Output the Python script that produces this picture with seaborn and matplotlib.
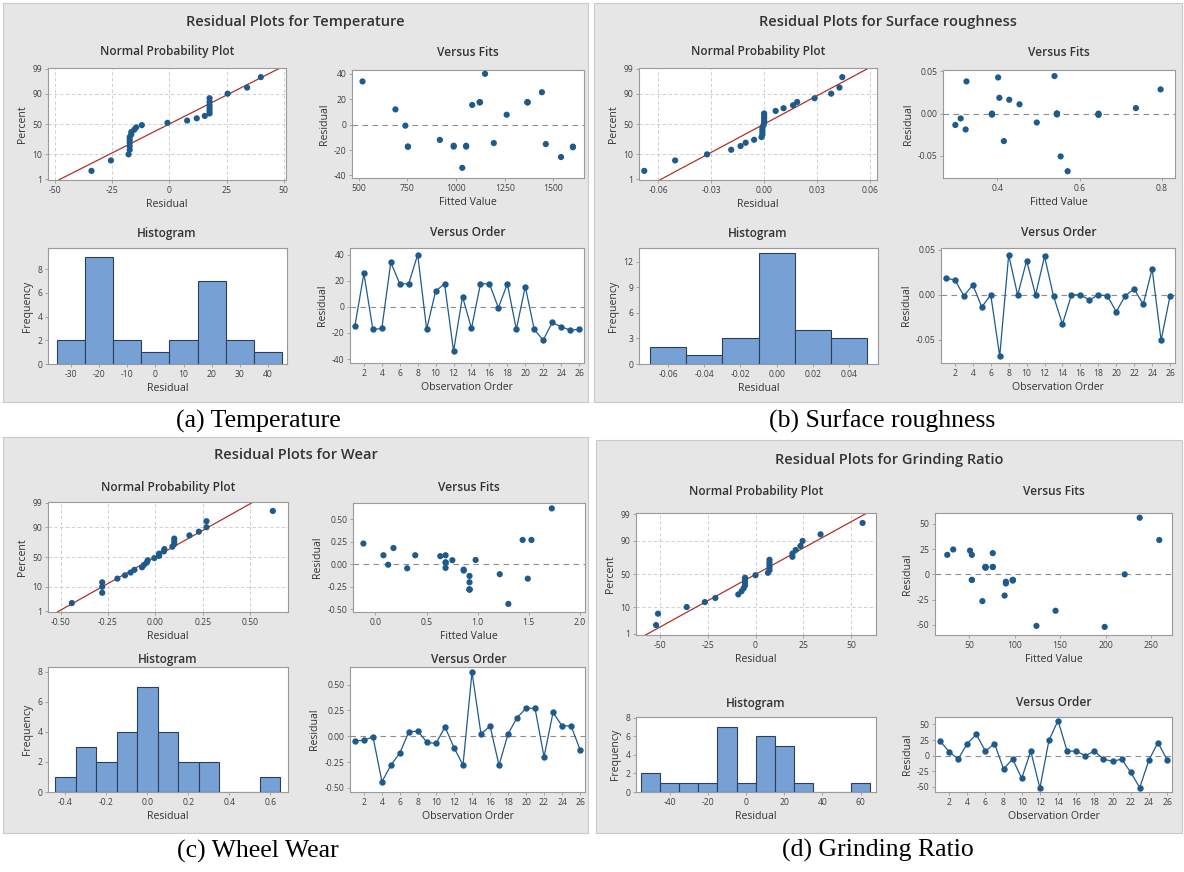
import numpy as np
import matplotlib
matplotlib.use("Agg")
import matplotlib.pyplot as plt
import seaborn as sns
from matplotlib.patches import Rectangle
from statistics import NormalDist

W, H = 1184, 872

obs_order = list(range(1, 27))

# Residuals (in observation order) and fitted values for each response
temp_resid = [-14.5, 25.5, -17.3, -16.6, 34.0, 17.6, 17.6, 40.0, -17.3, 12.0, 17.6, -34.0, 7.8,
              -16.6, 17.6, 17.6, -0.8, 17.6, -17.3, 15.5, -17.3, -25.5, -12.0, -15.3, -17.8, -17.3]
temp_fits = [1194, 1441, 753, 988, 520, 1122, 1367, 1149, 1052, 689, 1122, 1032, 1260,
             1052, 1367, 1122, 740, 1367, 1600, 1083, 753, 1539, 917, 1461, 1600, 988]

rough_resid = [0.0187, 0.0164, -0.0010, 0.0110, -0.0134, 0.0000, -0.0680, 0.0443, -0.0004, 0.0380,
               0.0000, 0.0427, -0.0015, -0.0324, 0.0000, 0.0000, -0.0057, 0.0000, -0.0010, -0.0187,
               -0.0010, 0.0065, -0.0105, 0.0286, -0.0505, -0.0010]
rough_fits = [0.405, 0.429, 0.387, 0.454, 0.298, 0.545, 0.571, 0.539, 0.387, 0.325, 0.545, 0.402, 0.646,
              0.416, 0.545, 0.646, 0.311, 0.387, 0.646, 0.323, 0.387, 0.737, 0.496, 0.797, 0.554, 0.545]

wear_resid = [-0.045, -0.040, -0.005, -0.440, -0.280, -0.160, 0.045, 0.048, -0.060, -0.070, 0.090, -0.110,
              -0.280, 0.620, 0.020, 0.100, -0.280, 0.020, 0.180, 0.270, 0.270, -0.200, 0.230, 0.100,
              0.100, -0.130]
wear_fits = [0.310, 0.686, 0.124, 1.300, 0.920, 1.490, 0.752, 0.980, 0.863, 0.863, 0.634, 1.216, 0.920,
             1.725, 0.686, 0.389, 0.920, 0.686, 0.176, 1.440, 1.526, 0.920, -0.118, 0.078, 0.686, 0.920]

grind_resid = [23.5, 6.5, -5.5, 19.3, 34.0, 7.3, 19.3, -21.0, -5.5, -36.0, 7.3, -52.0, 24.6,
               56.0, 7.3, 7.3, 0.0, 7.3, -5.5, -9.0, -5.5, -26.5, -51.0, -7.3, 21.0, -6.2]
grind_fits = [51, 68, 53, 26, 259, 68, 53, 89, 98, 145, 76, 199, 32.5,
              237.5, 68, 76, 221, 68, 98, 90.4, 53, 64.6, 124, 90.4, 76, 98]

response_names = ["Temperature", "Surface roughness", "Wear", "Grinding Ratio"]
captions = ["(a) Temperature", "(b) Surface roughness", "(c) Wheel Wear", "(d) Grinding Ratio"]
npp_pct_ticks = [1, 10, 50, 90, 99]
order_ticks = list(range(2, 27, 2))

# Axis settings for each response: ticks, tick formats, limits, histogram bins
axis_cfg = [
    dict(npp_x=[-50, -25, 0, 25, 50], npp_fmt="{:.0f}", npp_xlim=(-53, 51),
         vf_x=[500, 750, 1000, 1250, 1500], vf_fmt="{:.0f}", vf_xlim=(466, 1657),
         res_y=[-40, -20, 0, 20, 40], res_fmt="{:.0f}", vf_ylim=(-42, 43), vo_ylim=(-43, 45),
         hist_x=[-30, -20, -10, 0, 10, 20, 30, 40], hist_fmt="{:.0f}", bin_w=10,
         hist_xlim=(-38.2, 46.8), hist_y=[0, 2, 4, 6, 8], hist_ylim=(0, 9.8)),
    dict(npp_x=[-0.06, -0.03, 0, 0.03, 0.06], npp_fmt="{:.2f}", npp_xlim=(-0.071, 0.064),
         vf_x=[0.4, 0.6, 0.8], vf_fmt="{:.1f}", vf_xlim=(0.268, 0.832),
         res_y=[-0.05, 0, 0.05], res_fmt="{:.2f}", vf_ylim=(-0.076, 0.0515), vo_ylim=(-0.0756, 0.052),
         hist_x=[-0.06, -0.04, -0.02, 0, 0.02, 0.04], hist_fmt="{:.2f}", bin_w=0.02,
         hist_xlim=(-0.076, 0.056), hist_y=[0, 3, 6, 9, 12], hist_ylim=(0, 13.6)),
    dict(npp_x=[-0.5, -0.25, 0, 0.25, 0.5], npp_fmt="{:.2f}", npp_xlim=(-0.566, 0.70),
         vf_x=[0.0, 0.5, 1.0, 1.5, 2.0], vf_fmt="{:.1f}", vf_xlim=(-0.22, 2.05),
         res_y=[-0.5, -0.25, 0, 0.25, 0.5], res_fmt="{:.2f}", vf_ylim=(-0.53, 0.68), vo_ylim=(-0.54, 0.67),
         hist_x=[-0.4, -0.2, 0.0, 0.2, 0.4, 0.6], hist_fmt="{:.1f}", bin_w=0.1,
         hist_xlim=(-0.485, 0.687), hist_y=[0, 2, 4, 6, 8], hist_ylim=(0, 8.3)),
    dict(npp_x=[-50, -25, 0, 25, 50], npp_fmt="{:.0f}", npp_xlim=(-62.5, 63),
         vf_x=[50, 100, 150, 200, 250], vf_fmt="{:.0f}", vf_xlim=(12.5, 273),
         res_y=[-50, -25, 0, 25, 50], res_fmt="{:.0f}", vf_ylim=(-60, 60.7), vo_ylim=(-58, 61.8),
         hist_x=[-40, -20, 0, 20, 40, 60], hist_fmt="{:.0f}", bin_w=10,
         hist_xlim=(-57.6, 68), hist_y=[0, 2, 4, 6, 8], hist_ylim=(0, 8.1)),
]
hist_lo = [-30, -0.06, -0.4, -50]
hist_hi = [40, 0.04, 0.6, 60]

resids = [temp_resid, rough_resid, wear_resid, grind_resid]
fits = [temp_fits, rough_fits, wear_fits, grind_fits]

# Colours
PANEL_BG = "#e6e6e6"
PANEL_EDGE = "#c9c9c9"
DOT = "#1f5a8c"
BAR = "#77a1d5"
BAR_EDGE = "#2b3f5c"
FIT_LINE = "#b0302a"
GRID = "#c8c8c8"
ZERO = "#8c8c8c"
SPINE = "#9a9a9a"
TXT = "#333333"
TICK_TXT = "#404040"

sns.set_theme(style="white")
plt.rcParams['font.family'] = ['Open Sans', 'DejaVu Sans']

fig = plt.figure(figsize=(W / 100, H / 100), dpi=100)
fig.patch.set_facecolor("white")

# Pixel layout of each panel (relative to its top-left corner)
LAYOUT_TOP = dict(title_y=19, sub_top_y=49, sub_bot_y=230,
                  npp=(45, 65, 283, 177), vf=(349, 67, 581, 175),
                  hist=(45, 245, 284, 361), vo=(347, 245, 581, 360))
LAYOUT_C = dict(title_y=18, sub_top_y=50, sub_bot_y=222,
                npp=(45, 65, 285, 175), vf=(350, 66, 582, 175),
                hist=(45, 230, 285, 355), vo=(347, 230, 582, 355))
LAYOUT_D = dict(title_y=20, sub_top_y=51, sub_bot_y=263,
                npp=(40, 73, 280, 195), vf=(339, 73, 576, 195),
                hist=(40, 277, 280, 352), vo=(339, 277, 576, 352))
layouts = [LAYOUT_TOP, LAYOUT_TOP, LAYOUT_C, LAYOUT_D]
panels = [(3, 3, 585, 399), (594, 3, 588, 399), (3, 437, 585, 396), (596, 440, 586, 393)]
caption_pos = [(258, 421), (882, 421), (258, 851), (878, 850)]

nd = NormalDist()


def add_px_axes(ox, oy, box):
    x0, y0, x1, y1 = box
    x0 += ox; x1 += ox; y0 += oy; y1 += oy
    ax = fig.add_axes([x0 / W, 1 - y1 / H, (x1 - x0) / W, (y1 - y0) / H])
    ax.set_facecolor("white")
    for s in ax.spines.values():
        s.set_color(SPINE)
        s.set_linewidth(0.8)
    ax.tick_params(bottom=True, left=True, length=2.5, width=0.6, color=SPINE,
                   labelsize=6.2, labelcolor=TICK_TXT, pad=1.5)
    return ax


def fmt_labels(vals, fmt):
    out = []
    for v in vals:
        s = fmt.format(v)
        if s.startswith("-") and float(s) == 0:
            s = s[1:]
        out.append(s)
    return out


def style_labels(ax, xlabel, ylabel):
    ax.set_xlabel(xlabel, fontsize=7.6, color=TXT, labelpad=3)
    ax.set_ylabel(ylabel, fontsize=7.6, color=TXT, labelpad=3)


for i in range(4):
    px, py, pw, ph = panels[i]
    L = layouts[i]
    cfg = axis_cfg[i]
    resid = np.asarray(resids[i], float)
    fitted = np.asarray(fits[i], float)

    fig.patches.append(Rectangle((px / W, 1 - (py + ph) / H), pw / W, ph / H,
                                 transform=fig.transFigure, facecolor=PANEL_BG,
                                 edgecolor=PANEL_EDGE, lw=0.8, zorder=-5))
    fig.text((px + pw / 2) / W, 1 - (py + L['title_y']) / H,
             f"Residual Plots for {response_names[i]}", ha="center", va="center",
             fontsize=10.5, fontweight="semibold", color=TXT)
    lc = px + (L['npp'][0] + L['npp'][2]) / 2
    rc = px + (L['vf'][0] + L['vf'][2]) / 2
    for cx, cy, t in [(lc, L['sub_top_y'], "Normal Probability Plot"),
                      (rc, L['sub_top_y'], "Versus Fits"),
                      (lc, L['sub_bot_y'], "Histogram"),
                      (rc, L['sub_bot_y'], "Versus Order")]:
        fig.text(cx / W, 1 - (py + cy) / H, t, ha="center", va="center",
                 fontsize=8.6, fontweight="semibold", color=TXT)

    # Normal probability plot
    ax = add_px_axes(px, py, L['npp'])
    r = np.sort(resid)
    n = len(r)
    pp = (np.arange(1, n + 1) - 0.375) / (n + 0.25)
    z = np.array([nd.inv_cdf(v) for v in pp])
    mu, sd = r.mean(), r.std(ddof=1)
    zlo, zhi = nd.inv_cdf(0.009), nd.inv_cdf(0.991)
    for xt in cfg['npp_x']:
        ax.axvline(xt, color=GRID, lw=0.6, ls=(0, (4, 3)), zorder=0)
    for pt in [10, 50, 90]:
        ax.axhline(nd.inv_cdf(pt / 100), color=GRID, lw=0.6, ls=(0, (4, 3)), zorder=0)
    zl = np.array([zlo, zhi])
    sns.lineplot(x=mu + sd * zl, y=zl, ax=ax, color=FIT_LINE, lw=0.9, zorder=2)
    sns.scatterplot(x=r, y=z, ax=ax, color=DOT, s=20, edgecolor="none", zorder=3)
    ax.set_xlim(*cfg['npp_xlim'])
    ax.set_ylim(zlo, zhi)
    ax.set_xticks(cfg['npp_x'])
    ax.set_xticklabels(fmt_labels(cfg['npp_x'], cfg['npp_fmt']))
    ax.set_yticks([nd.inv_cdf(p / 100) for p in npp_pct_ticks])
    ax.set_yticklabels([str(p) for p in npp_pct_ticks])
    style_labels(ax, "Residual", "Percent")

    # Versus fits
    ax = add_px_axes(px, py, L['vf'])
    ax.axhline(0, color=ZERO, lw=0.8, ls=(0, (5, 4)), zorder=1)
    sns.scatterplot(x=fitted, y=resid, ax=ax, color=DOT, s=20, edgecolor="none", zorder=3)
    ax.set_xlim(*cfg['vf_xlim'])
    ax.set_ylim(*cfg['vf_ylim'])
    ax.set_xticks(cfg['vf_x'])
    ax.set_xticklabels(fmt_labels(cfg['vf_x'], cfg['vf_fmt']))
    ax.set_yticks(cfg['res_y'])
    ax.set_yticklabels(fmt_labels(cfg['res_y'], cfg['res_fmt']))
    style_labels(ax, "Fitted Value", "Residual")

    # Histogram
    ax = add_px_axes(px, py, L['hist'])
    w = cfg['bin_w']
    nb = int(round((hist_hi[i] - hist_lo[i]) / w)) + 1
    edges = np.round(hist_lo[i] - w / 2 + w * np.arange(nb + 1), 6)
    sns.histplot(x=resid, bins=edges, ax=ax, color=BAR, edgecolor=BAR_EDGE,
                 linewidth=0.8, alpha=1.0, zorder=2)
    ax.set_xlim(*cfg['hist_xlim'])
    ax.set_ylim(*cfg['hist_ylim'])
    ax.set_xticks(cfg['hist_x'])
    ax.set_xticklabels(fmt_labels(cfg['hist_x'], cfg['hist_fmt']))
    ax.set_yticks(cfg['hist_y'])
    ax.set_yticklabels([str(v) for v in cfg['hist_y']])
    style_labels(ax, "Residual", "Frequency")

    # Versus order
    ax = add_px_axes(px, py, L['vo'])
    ax.axhline(0, color=ZERO, lw=0.8, ls=(0, (5, 4)), zorder=1)
    sns.lineplot(x=obs_order, y=resid, ax=ax, color=DOT, lw=0.9, marker="o",
                 markersize=4.6, markeredgewidth=0, zorder=3)
    ax.set_xlim(0.45, 26.55)
    ax.set_ylim(*cfg['vo_ylim'])
    ax.set_xticks(order_ticks)
    ax.set_xticklabels([str(v) for v in order_ticks])
    ax.set_yticks(cfg['res_y'])
    ax.set_yticklabels(fmt_labels(cfg['res_y'], cfg['res_fmt']))
    style_labels(ax, "Observation Order", "Residual")

    cx, cy = caption_pos[i]
    fig.text(cx / W, 1 - cy / H, captions[i], ha="center", va="center",
             fontsize=18.5, family=["Liberation Serif", "DejaVu Serif"], color="black")

fig.savefig("out.png", dpi=100, facecolor="white")
